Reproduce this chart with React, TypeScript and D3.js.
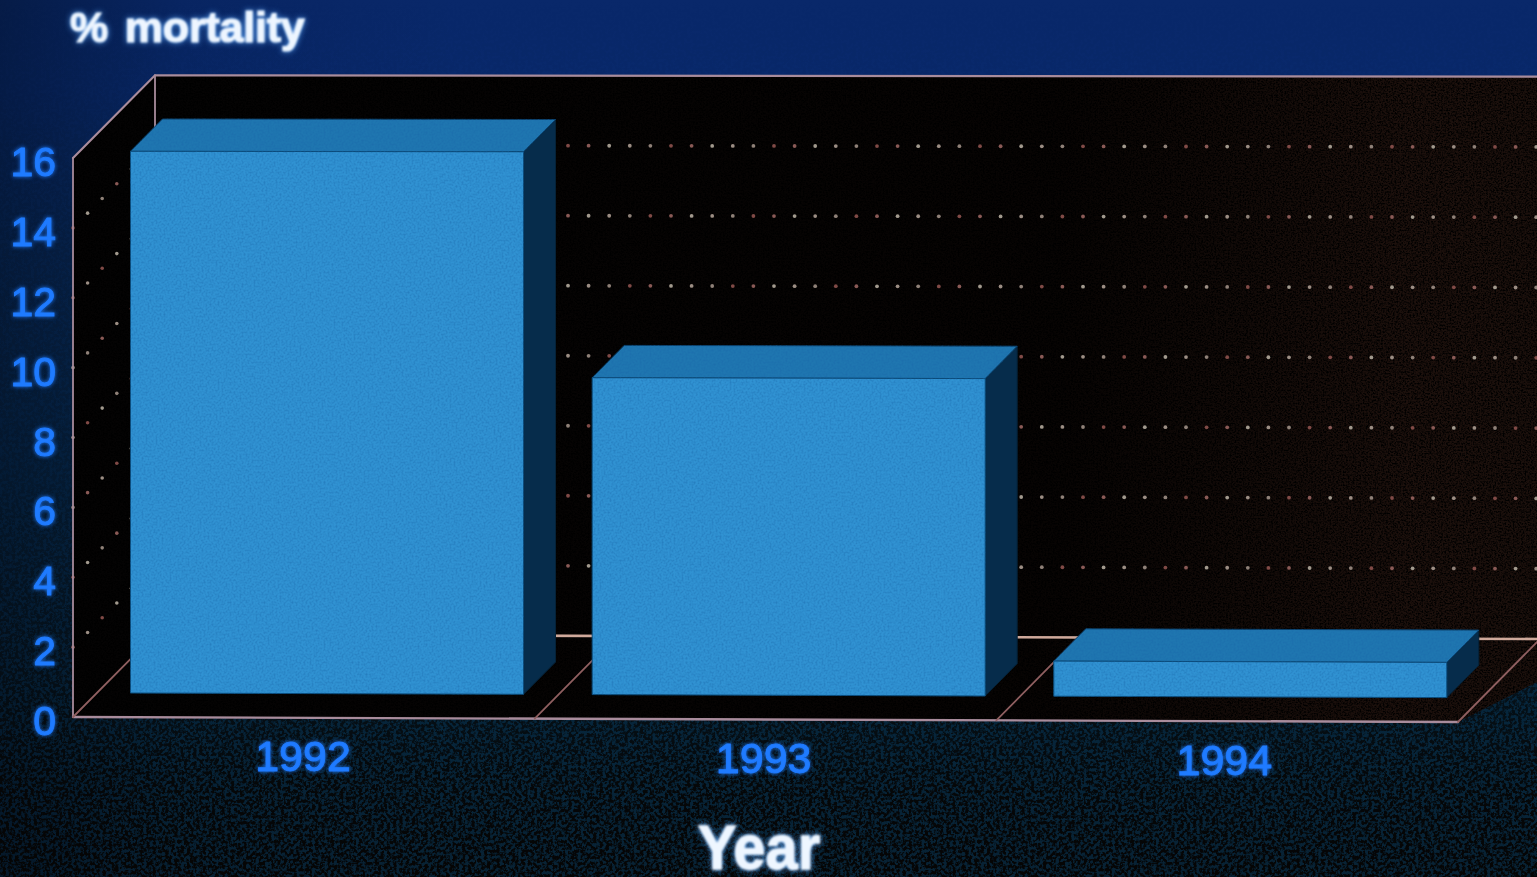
import React from "react";
import * as d3 from "d3";

// Year-on-year mortality, drawn as a 3-D column chart on a dark slide.
const years = ["1992", "1993", "1994"];
const mortality = [15.5, 9.05, 1.0];
const yTicks = [0, 2, 4, 6, 8, 10, 12, 14, 16];
const gridValues = [2, 4, 6, 8, 10, 12, 14];
const yTitle = "% mortality";
const xTitle = "Year";

const W = 1537;
const H = 877;
const FRONT_LEFT = 73;
const FRONT_RIGHT = 1458;
const DEPTH = 82;
const BAR_NEAR = 24;
const BAR_DEEP = 32;

const y = d3.scaleLinear().domain([0, 16]).range([717, 158]);
const x = d3.scaleBand<string>().domain(years).range([FRONT_LEFT, FRONT_RIGHT]);

// The plane of the chart leans slightly: lower rows drop faster to the right.
const project = (fx: number, value: number, depth: number): [number, number] => {
  const px = fx + depth;
  const py = y(value) - depth * 1.01;
  const k = 0.001 + (0.0026 * (py - 75)) / 640;
  return [px, py + (px - FRONT_LEFT) * k];
};

const pts = (list: [number, number][]) => list.map((p) => p.map((n) => n.toFixed(1)).join(",")).join(" ");
const linePath = d3.line();

const LINE = "#a98c9c";
const LINE_WARM = "#cfa99b";
const dotColors = ["#a29a8e", "#8f8178", "#8a5a56", "#9c8e84", "#804a46"];

function Bars() {
  const faces = years.map((year, i) => {
    const x0 = x(year)! + 33.5;
    const x1 = x0 + 393;
    const v = mortality[i];
    return {
      year,
      a: project(x0, v, BAR_NEAR),
      b: project(x1, v, BAR_NEAR),
      c: project(x1, 0, BAR_NEAR),
      d: project(x0, 0, BAR_NEAR),
      e: project(x0, v, BAR_NEAR + BAR_DEEP),
      f: project(x1, v, BAR_NEAR + BAR_DEEP),
      g: project(x1, 0, BAR_NEAR + BAR_DEEP),
    };
  });
  return (
    <g strokeLinejoin="round" strokeWidth={1}>
      {faces.map((q) => (
        <polygon key={q.year} points={pts([q.b, q.f, q.g, q.c])} fill="#062c4b" stroke="#052238" />
      ))}
      <g filter="url(#barGrain)">
        {faces.map((q) => (
          <g key={q.year}>
            <polygon points={pts([q.a, q.b, q.f, q.e])} fill="#1f76b0" stroke="#0b3f68" />
            <polygon points={pts([q.a, q.b, q.c, q.d])} fill="#3092d2" stroke="#0b4a78" />
          </g>
        ))}
      </g>
    </g>
  );
}

export default function App() {
  const wallRight = W + 100;
  const wallBack = pts([project(FRONT_LEFT, 16, DEPTH), project(wallRight, 16, DEPTH), project(wallRight, 0, DEPTH), project(FRONT_LEFT, 0, DEPTH)]);
  const wallSide = pts([project(FRONT_LEFT, 16, 0), project(FRONT_LEFT, 16, DEPTH), project(FRONT_LEFT, 0, DEPTH), project(FRONT_LEFT, 0, 0)]);
  const floor = pts([project(FRONT_LEFT, 0, 0), project(FRONT_LEFT, 0, DEPTH), project(wallRight, 0, DEPTH), project(FRONT_RIGHT + DEPTH, 0, DEPTH), project(FRONT_RIGHT, 0, 0)]);
  const dividers = [...years.slice(1).map((yr) => x(yr)!), FRONT_LEFT, FRONT_RIGHT];
  const dotSteps = d3.range(0, 70);
  const sideSteps = d3.range(0, 6);

  return (
    <svg width={W} height={H} viewBox={`0 0 ${W} ${H}`} style={{ position: "absolute", left: 0, top: 0, display: "block" }} fontFamily="'Liberation Sans', Arial, sans-serif">
      <defs>
        <linearGradient id="bg" x1="0" y1="0" x2="0" y2="1">
          <stop offset="0" stopColor="#09286a" />
          <stop offset="0.1" stopColor="#09296c" />
          <stop offset="0.28" stopColor="#08295a" />
          <stop offset="0.55" stopColor="#06284a" />
          <stop offset="0.8" stopColor="#06263c" />
          <stop offset="1" stopColor="#082234" />
        </linearGradient>
        <linearGradient id="bgLeft" x1="0" y1="0" x2="1" y2="0">
          <stop offset="0" stopColor="#020c1c" stopOpacity="0.45" />
          <stop offset="0.12" stopColor="#020c1c" stopOpacity="0.1" />
          <stop offset="0.3" stopColor="#020c1c" stopOpacity="0" />
        </linearGradient>
        <linearGradient id="wall" x1="0" y1="0" x2="1" y2="0">
          <stop offset="0" stopColor="#040303" />
          <stop offset="0.58" stopColor="#070403" />
          <stop offset="0.8" stopColor="#1c100c" />
          <stop offset="1" stopColor="#190f0b" />
        </linearGradient>
        <linearGradient id="grainFade" x1="0" y1="0" x2="0" y2="1">
          <stop offset="0" stopColor="#000" />
          <stop offset="0.55" stopColor="#333" />
          <stop offset="0.78" stopColor="#999" />
          <stop offset="0.9" stopColor="#eee" />
          <stop offset="1" stopColor="#fff" />
        </linearGradient>
        <mask id="grainMask" maskUnits="userSpaceOnUse" x="0" y="0" width={W} height={H}>
          <rect width={W} height={H} fill="url(#grainFade)" />
        </mask>
        <filter id="grain" filterUnits="userSpaceOnUse" x="0" y="0" width={W} height={H} colorInterpolationFilters="sRGB">
          <feTurbulence type="fractalNoise" baseFrequency="0.32" numOctaves="3" seed="4" />
          <feColorMatrix values="0 0 0 0 0.02  0 0 0 0 0.02  0 0 0 0 0.02  5.5 0 0 0 -2.2" />
        </filter>
        <filter id="barGrain" filterUnits="userSpaceOnUse" x="0" y="0" width={W} height={H} colorInterpolationFilters="sRGB">
          <feTurbulence type="fractalNoise" baseFrequency="0.5" numOctaves="2" seed="9" result="n" />
          <feColorMatrix in="n" values="0 0 0 0 0.1  0 0 0 0 0.4  0 0 0 0 0.66  1 0 0 0 -0.4" result="speck" />
          <feComposite in="speck" in2="SourceAlpha" operator="in" result="clipped" />
          <feMerge>
            <feMergeNode in="SourceGraphic" />
            <feMergeNode in="clipped" />
          </feMerge>
        </filter>
        <filter id="wallGrain" filterUnits="userSpaceOnUse" x="0" y="0" width={W} height={H} colorInterpolationFilters="sRGB">
          <feTurbulence type="fractalNoise" baseFrequency="0.6" numOctaves="2" seed="15" result="n" />
          <feColorMatrix in="n" values="0 0 0 0 0  0 0 0 0 0  0 0 0 0 0  3 0 0 0 -1.2" result="speck" />
          <feComposite in="speck" in2="SourceAlpha" operator="in" result="clipped" />
          <feMerge>
            <feMergeNode in="SourceGraphic" />
            <feMergeNode in="clipped" />
          </feMerge>
        </filter>
        <filter id="whiteGlow" filterUnits="userSpaceOnUse" x="0" y="0" width={W} height={H} colorInterpolationFilters="sRGB">
          <feGaussianBlur in="SourceAlpha" stdDeviation="3" result="b" />
          <feFlood floodColor="#5aa8ff" floodOpacity="0.9" />
          <feComposite in2="b" operator="in" result="halo" />
          <feGaussianBlur in="SourceGraphic" stdDeviation="1" result="soft" />
          <feMerge>
            <feMergeNode in="halo" />
            <feMergeNode in="soft" />
          </feMerge>
        </filter>
        <filter id="blueSoft" filterUnits="userSpaceOnUse" x="0" y="0" width={W} height={H} colorInterpolationFilters="sRGB">
          <feGaussianBlur in="SourceGraphic" stdDeviation="2" result="h" />
          <feGaussianBlur in="SourceGraphic" stdDeviation="0.6" result="s" />
          <feMerge>
            <feMergeNode in="h" />
            <feMergeNode in="s" />
          </feMerge>
        </filter>
        <filter id="soft" filterUnits="userSpaceOnUse" x="0" y="0" width={W} height={H} colorInterpolationFilters="sRGB">
          <feGaussianBlur stdDeviation="0.55" />
        </filter>
      </defs>

      <rect width={W} height={H} fill="url(#bg)" />
      <rect width={W} height={H} fill="url(#bgLeft)" />
      <rect width={W} height={H} filter="url(#grain)" mask="url(#grainMask)" />

      {/* Chart box: back wall, side wall and floor */}
      <g filter="url(#wallGrain)">
        <polygon points={wallBack} fill="url(#wall)" />
        <polygon points={wallSide} fill="#040303" />
        <polygon points={floor} fill="url(#wall)" />
      </g>

      {/* Dotted gridlines along the back and side walls */}
      <g filter="url(#soft)">
        {gridValues.map((v) => (
          <g key={v}>
            {dotSteps.map((s) => {
              const [px, py] = project(FRONT_LEFT + 495 - DEPTH + s * 20.6, v, DEPTH);
              return px < W ? <circle key={s} cx={px} cy={py} r={1.9} fill={dotColors[(s * 3 + v) % dotColors.length]} /> : null;
            })}
            {sideSteps.map((s) => {
              const [px, py] = project(FRONT_LEFT, v, s * 14.6);
              return <circle key={s} cx={px} cy={py} r={1.8} fill={dotColors[(s + v) % dotColors.length]} />;
            })}
          </g>
        ))}
      </g>

      {/* Frame lines */}
      <g fill="none" strokeLinecap="round" filter="url(#soft)">
        <path d={linePath([project(FRONT_LEFT, 16, 0), project(FRONT_LEFT, 0, 0)])!} stroke={LINE} strokeWidth={1.8} />
        <path d={linePath([project(FRONT_LEFT, 16, 0), project(FRONT_LEFT, 16, DEPTH), project(wallRight, 16, DEPTH)])!} stroke={LINE} strokeWidth={2.2} />
        <path d={linePath([project(FRONT_LEFT, 16, DEPTH), project(FRONT_LEFT, 0, DEPTH)])!} stroke={LINE} strokeWidth={1.8} />
        <path d={linePath([project(FRONT_LEFT, 0, DEPTH), project(wallRight, 0, DEPTH)])!} stroke={LINE_WARM} strokeWidth={2.6} />
        <path d={linePath([project(FRONT_LEFT, 0, 0), project(FRONT_RIGHT, 0, 0)])!} stroke={LINE} strokeWidth={2.4} />
        {dividers.map((fx) => (
          <path key={fx} d={linePath([project(fx, 0, 0), project(fx, 0, DEPTH)])!} stroke="#8f5f60" strokeWidth={1.8} />
        ))}
      </g>

      <Bars />

      {/* Axis labels */}
      <g filter="url(#blueSoft)" fill="#1f7bff" stroke="#1f7bff" strokeWidth={0.9}>
        {yTicks.map((t) => (
          <text key={t} x={56} y={y(t) + 18} textAnchor="end" fontSize={41}>
            {t}
          </text>
        ))}
        {years.map((yr, i) => (
          <text key={yr} x={x(yr)! + 230 - i * 1} y={771 + i * 2} textAnchor="middle" fontSize={43}>
            {yr}
          </text>
        ))}
      </g>

      <g filter="url(#whiteGlow)" fill="#eef6ff" stroke="#eef6ff" strokeWidth={1.2} fontWeight={700}>
        <text x={70} y={42} fontSize={43} wordSpacing={5} letterSpacing={-0.2}>
          {yTitle}
        </text>
        <text transform="translate(759,869) scale(1,1.1)" fontSize={58} textAnchor="middle">
          {xTitle}
        </text>
      </g>
    </svg>
  );
}
